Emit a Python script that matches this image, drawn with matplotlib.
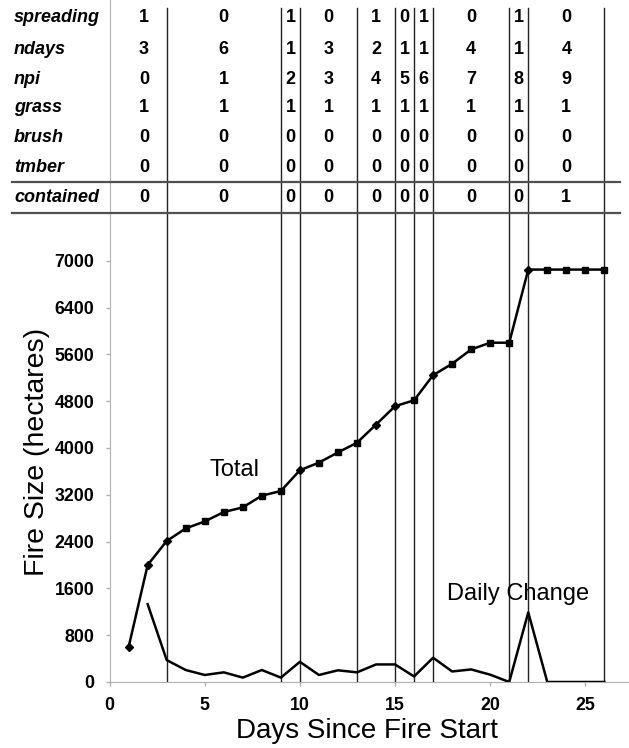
import numpy as np
import matplotlib
matplotlib.use("Agg")
import matplotlib.pyplot as plt
from matplotlib.lines import Line2D
from matplotlib.transforms import blended_transform_factory

plt.rcParams['font.family'] = ['Liberation Sans', 'DejaVu Sans']

# ---------------- data ----------------
days = list(range(1, 27))
total = [600, 2000, 2410, 2625, 2745, 2905, 2985, 3185, 3265, 3620, 3750, 3925, 4090,
         4400, 4715, 4815, 5245, 5440, 5685, 5800, 5800, 7050, 7050, 7050, 7050, 7050]
change_days = list(range(2, 27))
daily_change = [1330, 375, 205, 120, 165, 75, 205, 75, 345, 120, 200, 165, 300, 300,
                95, 415, 180, 215, 125, 0, 1190, 0, 0, 0, 0]

row_labels = ["spreading", "ndays", "npi", "grass", "brush", "tmber", "contained"]
spreading = [1, 0, 1, 0, 1, 0, 1, 0, 1, 0]
ndays = [3, 6, 1, 3, 2, 1, 1, 4, 1, 4]
npi = [0, 1, 2, 3, 4, 5, 6, 7, 8, 9]
grass = [1, 1, 1, 1, 1, 1, 1, 1, 1, 1]
brush = [0, 0, 0, 0, 0, 0, 0, 0, 0, 0]
tmber = [0, 0, 0, 0, 0, 0, 0, 0, 0, 0]
contained = [0, 0, 0, 0, 0, 0, 0, 0, 0, 1]
table_rows = [spreading, ndays, npi, grass, brush, tmber, contained]

ytick_vals = [0, 800, 1600, 2400, 3200, 4000, 4800, 5600, 6400, 7200]
ytick_labels = ["0", "800", "1600", "2400", "3200", "4000", "4800", "5600", "6400", "7000"]
xtick_vals = [0, 5, 10, 15, 20, 25]

# ---------------- figure ----------------
W, H = 629, 748
fig = plt.figure(figsize=(W / 100, H / 100), dpi=100)
ax_left, ax_bottom = 109.6 / W, (H - 682) / H
ax = fig.add_axes([ax_left, ax_bottom, 1 - ax_left, 1 - ax_bottom])

px_per_unit = 0.0585
ax.set_ylim(0, 682 / px_per_unit)
ax.set_xlim(0, (W - 109.6) / 19.03)

# boundaries between periods
bounds = np.cumsum(ndays)
for b in bounds:
    ax.axvline(b, ymin=0, ymax=(682 - 8) / 682, color='#222222', lw=1.0, zorder=1)

# total line with markers depending on spreading
spread_by_day = np.repeat(spreading, ndays)
ax.plot(days, total, color='black', lw=1.8, zorder=3)
d = np.array(days); t = np.array(total)
m_sq = spread_by_day == 0
ax.plot(d[m_sq], t[m_sq], ls='none', marker='s', ms=5, color='black', zorder=4)
ax.plot(d[~m_sq], t[~m_sq], ls='none', marker='D', ms=4, color='black', zorder=4)

ax.plot(change_days, daily_change, color='black', lw=1.8, zorder=3)

ax.text(5.23, 3526, "Total", fontsize=17, ha='left', va='baseline')
ax.text(17.71, 1406, "Daily Change", fontsize=17, ha='left', va='baseline')

# axes styling
for s in ['top', 'right']:
    ax.spines[s].set_visible(False)
ax.spines['left'].set_color('#b0b0b0')
ax.spines['bottom'].set_color('#b0b0b0')
ax.set_yticks(ytick_vals)
ax.set_yticklabels(ytick_labels, fontsize=12.8, fontweight='bold')
ax.set_xticks(xtick_vals)
ax.set_xticklabels([str(v) for v in xtick_vals], fontsize=12.8, fontweight='bold')
ax.tick_params(axis='both', direction='out', color='#b0b0b0', length=3, width=1)
ax.tick_params(axis='y', pad=8)
ax.tick_params(axis='x', pad=8)

fig.text(367 / W, 1 - 731 / H, "Days Since Fire Start", fontsize=20, ha='center', va='center')
fig.text(37.5 / W, 1 - 451.5 / H, "Fire Size (hectares)", fontsize=20.5, ha='center',
         va='center', rotation=90)

# ---------------- table ----------------
row_y_px = [18, 49, 79, 108, 138, 168, 197]
trans = blended_transform_factory(ax.transData, fig.transFigure)
starts = np.concatenate([[0.6], bounds[:-1]])
centers = (starts + bounds) / 2
for label, vals, ypx in zip(row_labels, table_rows, row_y_px):
    yf = 1 - ypx / H
    fig.text(14 / W, yf, label, fontsize=13, fontweight='bold', fontstyle='italic',
             ha='left', va='center')
    for c, v in zip(centers, vals):
        ax.text(c, yf, str(v), transform=trans, fontsize=13, fontweight='bold',
                ha='center', va='center', clip_on=False)

for ypx in [181.7, 213.3]:
    fig.add_artist(Line2D([12 / W, 620 / W], [1 - ypx / H, 1 - ypx / H],
                          transform=fig.transFigure, color='#505050', lw=1.6))

fig.savefig("out.png", dpi=100)
